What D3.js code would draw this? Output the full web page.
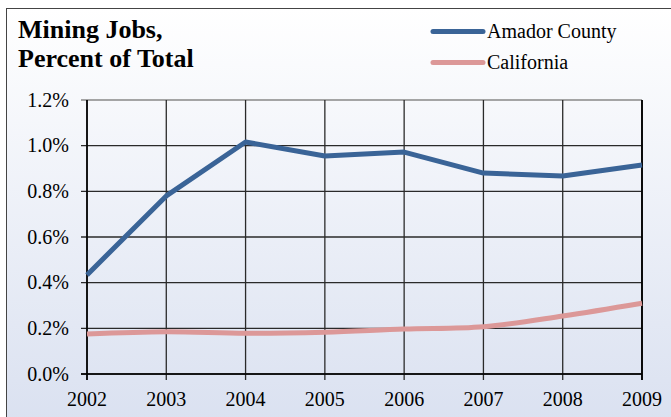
<!DOCTYPE html>
<html><head><meta charset="utf-8">
<script src="https://cdn.jsdelivr.net/npm/d3@7/dist/d3.min.js"></script>
<style>html,body{margin:0;padding:0;background:#fff;}svg{display:block;}</style>
</head><body>
<svg id="c" width="671" height="417"></svg>
<script>
const years = [2002, 2003, 2004, 2005, 2006, 2007, 2008, 2009];
const amador = [0.434, 0.78, 1.016, 0.955, 0.972, 0.880, 0.867, 0.915];
const california = [0.175, 0.185, 0.178, 0.183, 0.197, 0.207, 0.254, 0.310];
const yTicks = [0, 0.2, 0.4, 0.6, 0.8, 1.0, 1.2];
const seriesNames = ["Amador County", "California"];
const titleLines = ["Mining Jobs,", "Percent of Total"];

const svg = d3.select("#c");
const W = 671, H = 417;
const m = {left: 87, right: 642, top: 100, bottom: 374};
const serif = "'Liberation Serif','Times New Roman',serif";

const defs = svg.append("defs");
const grad = defs.append("linearGradient").attr("id","bg").attr("x1",0).attr("y1",0).attr("x2",0).attr("y2",1);
grad.append("stop").attr("offset","0%").attr("stop-color","#ffffff");
grad.append("stop").attr("offset","100%").attr("stop-color","#d9e0f0");

svg.append("rect").attr("x",6.5).attr("y",8.5).attr("width",W+10).attr("height",H+10)
  .attr("fill","url(#bg)").attr("stroke","#444").attr("stroke-width",1);

const x = d3.scalePoint().domain(years).range([m.left, m.right]);
const y = d3.scaleLinear().domain([0, 1.2]).range([m.bottom, m.top]);

// horizontal gridlines
svg.append("g").selectAll("line").data(yTicks).join("line")
  .attr("x1", m.left - 6).attr("x2", m.right)
  .attr("y1", d => y(d)).attr("y2", d => y(d))
  .attr("stroke", d => d === 1.2 ? "#888" : "#2a2a2a").attr("stroke-width", 1.3);
// vertical gridlines
svg.append("g").selectAll("line").data(years).join("line")
  .attr("x1", d => x(d)).attr("x2", d => x(d))
  .attr("y1", m.top).attr("y2", m.bottom + 6)
  .attr("stroke", "#2a2a2a").attr("stroke-width", 1.3);
// axes thicker
svg.append("line").attr("x1", m.left).attr("x2", m.left).attr("y1", m.top).attr("y2", m.bottom+6)
  .attr("stroke","#000").attr("stroke-width",1.6);
svg.append("line").attr("x1", m.right).attr("x2", m.right).attr("y1", m.top).attr("y2", m.bottom+6)
  .attr("stroke","#000").attr("stroke-width",1.8);
svg.append("line").attr("x1", m.left-6).attr("x2", m.right).attr("y1", m.bottom).attr("y2", m.bottom)
  .attr("stroke","#000").attr("stroke-width",1.6);

// y labels
svg.append("g").selectAll("text").data(yTicks).join("text")
  .attr("x", 69).attr("y", d => y(d) + 6.5)
  .attr("text-anchor","end").attr("font-family",serif).attr("font-size",20).attr("fill","#000")
  .text(d => d3.format(".1f")(d) + "%");
// x labels
svg.append("g").selectAll("text").data(years).join("text")
  .attr("x", d => x(d)).attr("y", 405.5)
  .attr("text-anchor","middle").attr("font-family",serif).attr("font-size",20).attr("fill","#000")
  .text(d => d);

// lines
const colors = ["#3a6497", "#dc9898"];
const lineA = d3.line().x((d,i) => x(years[i])).y(d => y(d));
const lineC = d3.line().x((d,i) => x(years[i])).y(d => y(d)).curve(d3.curveCatmullRom.alpha(0.5));
svg.append("path").datum(california).attr("d", lineC).attr("fill","none")
  .attr("stroke", colors[1]).attr("stroke-width",5).attr("stroke-linejoin","round");
svg.append("path").datum(amador).attr("d", lineA).attr("fill","none")
  .attr("stroke", colors[0]).attr("stroke-width",5).attr("stroke-linejoin","round");

// title
titleLines.forEach((t,i) => {
  svg.append("text").attr("x",18).attr("y",37.5 + i*29.5)
    .attr("font-family",serif).attr("font-weight","bold").attr("font-size",26)
    .attr("fill","#000").text(t);
});

// legend
seriesNames.forEach((n,i) => {
  const ly = 31.5 + i*31;
  svg.append("line").attr("x1",433).attr("x2",483).attr("y1",ly).attr("y2",ly)
    .attr("stroke",colors[i]).attr("stroke-width",5).attr("stroke-linecap","round");
  svg.append("text").attr("x",487).attr("y",ly+6.5)
    .attr("font-family",serif).attr("font-size",20).attr("fill","#000").text(n);
});
</script>
</body></html>
